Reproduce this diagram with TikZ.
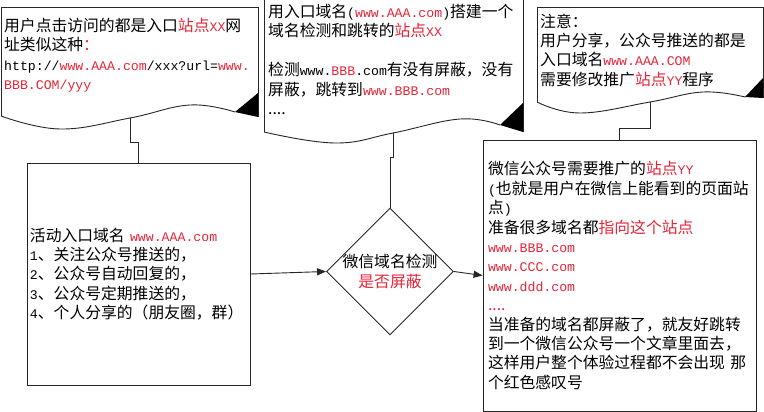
\documentclass[tikz,border=0pt]{standalone}
\usepackage{fontspec}
\setmainfont{Noto Sans CJK SC}
\setmonofont{Liberation Mono}
\usetikzlibrary{shapes.geometric,arrows.meta}
\definecolor{hotred}{RGB}{232,36,56}
\newcommand\en[1]{{\ttfamily\fontsize{13.2}{19.4}\selectfont #1}}
\newcommand\hot[1]{\textcolor{hotred}{#1}}

\begin{document}
\begin{tikzpicture}[x=1pt, y=-1pt,
        txt/.style={inner sep=0pt, align=left, font=\fontsize{15.8}{19.4}\selectfont},
        box/.style={txt, draw=black!85, line width=0.9pt},
        docline/.style={draw=black!85, line width=0.9pt},
        link/.style={black!85, line width=0.9pt},
        flow/.style={link, -{Triangle[length=9pt,width=7pt]}}]
        \useasboundingbox (0,0) rectangle (764,412);

        % Left note: the link the user clicks
        \draw[docline] (1,116) -- (1,7) -- (258,7) -- (258,117);
        \draw[docline] plot[smooth, tension=0.7] coordinates {(1,116) (60,129) (130,118) (190,105) (235,112)};
        \fill[black] (235,112) -- (258,93) -- (258,117) -- cycle;
        \coordinate (doc1bot) at (130,118);
        \node[txt, anchor=north west] (doc1) at (4,18) {用户点击访问的都是入口\hot{站点\en{XX}}网\\址类似这种\hot{：}\\\en{http://\hot{www.AAA.com}/xxx?url=\hot{www.}}\\\hot{\en{BBB.COM/yyy}}};

        % Middle note: the check and jump site
        \draw[docline] (264,132) -- (264,-1) -- (523,-1) -- (523,132);
        \draw[docline] plot[smooth, tension=0.7] coordinates {(264,132) (335,143) (393,133) (460,119) (500,125)};
        \fill[black] (500,125) -- (523,103) -- (523,132) -- cycle;
        \coordinate (doc2bot) at (393,133);
        \node[txt, anchor=north west] (doc2) at (268,4) {用入口域名\en{(}\hot{\en{www.AAA.com}}\en{)}搭建一个\\域名检测和跳转的\hot{站点\en{XX}}\\[19.4pt]检测\en{www.\hot{BBB}.com}有没有屏蔽，没有\\屏蔽，跳转到\hot{\en{www.BBB.com}}\\....};

        % Right note
        \draw[docline] (537,102) -- (537,7) -- (763,7) -- (763,98);
        \draw[docline] plot[smooth, tension=0.7] coordinates {(537,102) (580,113) (650,102) (703,92) (745,97)};
        \fill[black] (745,97) -- (763,78) -- (763,98) -- cycle;
        \coordinate (doc3bot) at (650,102);
        \node[txt, anchor=north west] (doc3) at (540,13.4) {注意：\\用户分享，公众号推送的都是\\入口域名\hot{\en{www.AAA.COM}}\\需要修改推广\hot{站点\en{YY}}程序};

        % Entry domain box
        \node[box, text width=217pt, inner xsep=3pt, minimum height=222pt] (lbox) at (138.5,274) {活动入口域名 \hot{\en{www.AAA.com}}\\\en{1}、关注公众号推送的，\\\en{2}、公众号自动回复的，\\\en{3}、公众号定期推送的，\\\en{4}、个人分享的（朋友圈，群）};

        % Check diamond
        \node[diamond, draw=black!85, line width=0.9pt, minimum width=127pt, minimum height=127pt, inner sep=0pt] (dia) at (390,271.5) {};
        \node[txt, align=center] (diatext) at (dia.center) {微信域名检测\\\hot{是否屏蔽}};

        % Target site box
        \node[box, text width=263pt, inner xsep=5pt, minimum height=271pt] (rbox) at (619.5,275.5) {微信公众号需要推广的\hot{站点\en{YY}}\\\en{(}也就是用户在微信上能看到的页面站\\点\en{)}\\准备很多域名都\hot{指向这个站点}\\\hot{\en{www.BBB.com}}\\\hot{\en{www.CCC.com}}\\\hot{\en{www.ddd.com}}\\\hot{....}\\当准备的域名都屏蔽了，就友好跳转\\到一个微信公众号一个文章里面去，\\这样用户整个体验过程都不会出现 那\\个红色感叹号};

        % Connectors
        \draw[link] (doc1bot) -- ++(0,24) -| (lbox.north);
        \draw[link] (doc2bot) -- ++(0,24) -| (dia.north);
        \draw[link] (doc3bot) -- ++(0,26) -| (rbox.north);
        \draw[flow] (lbox.east) -- (dia.west);
        \draw[flow] (dia.east) -- (rbox.west);
    \end{tikzpicture}
\end{document}
